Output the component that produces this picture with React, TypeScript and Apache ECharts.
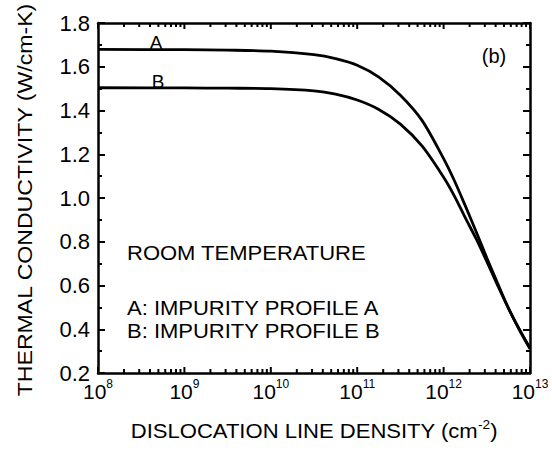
import React, { useEffect, useRef } from "react";
import * as echarts from "echarts";

// Dislocation line density (cm^-2) and thermal conductivity (W/cm-K)
const densityA = [1e8, 1e9, 3.16e9, 1e10, 3.16e10, 5.62e10, 1e11, 1.78e11, 3.16e11, 5.62e11, 1e12, 1.33e12, 1.78e12, 2.37e12, 3.16e12, 4.22e12, 5.62e12, 7.5e12, 1e13];
const conductivityA = [1.679, 1.678, 1.676, 1.671, 1.655, 1.637, 1.607, 1.553, 1.47, 1.355, 1.18, 1.08, 0.965, 0.848, 0.727, 0.61, 0.497, 0.4, 0.314];

const densityB = [1e8, 1e9, 3.16e9, 1e10, 3.16e10, 5.62e10, 1e11, 1.78e11, 3.16e11, 5.62e11, 1e12, 1.33e12, 1.78e12, 2.37e12, 3.16e12, 4.22e12, 5.62e12, 7.5e12, 1e13];
const conductivityB = [1.504, 1.503, 1.502, 1.5, 1.49, 1.475, 1.448, 1.405, 1.338, 1.238, 1.095, 1.01, 0.91, 0.815, 0.71, 0.6, 0.497, 0.4, 0.31];

const decadeTicks = [1e8, 1e9, 1e10, 1e11, 1e12, 1e13];
const exponentLabels = ["8", "9", "10", "11", "12", "13"];
const minorMultipliers = [2, 3, 4, 5, 6, 7, 8, 9];
const yTickLabels = ["0.2", "0.4", "0.6", "0.8", "1.0", "1.2", "1.4", "1.6", "1.8"];

const FONT = "'Liberation Sans', Arial, Helvetica, sans-serif";

export default function App() {
  const ref = useRef<HTMLDivElement>(null);

  useEffect(() => {
    if (!ref.current) return;
    const chart = echarts.init(ref.current, null, { renderer: "svg" });

    const xTicks: number[][] = [];
    for (let i = 0; i < decadeTicks.length; i++) {
      xTicks.push([decadeTicks[i], 1]);
      if (i < decadeTicks.length - 1) {
        for (const m of minorMultipliers) xTicks.push([decadeTicks[i] * m, 0]);
      }
    }

    const seriesA = densityA.map((d, i) => [d, conductivityA[i]]);
    const seriesB = densityB.map((d, i) => [d, conductivityB[i]]);

    const lineStyle = { color: "#000", width: 2.5 };

    const option: any = {
      animation: false,
      backgroundColor: "#fff",
      grid: { left: 98, right: 22, top: 23, bottom: 77, containLabel: false },
      xAxis: [
        {
          type: "log",
          logBase: 10,
          min: 1e8,
          max: 1e13,
          position: "bottom",
          splitLine: { show: false },
          axisLine: { show: true, onZero: false, lineStyle },
          axisTick: { show: false },
          axisLabel: {
            show: true,
            margin: 5,
            formatter: (v: number) => {
              const idx = decadeTicks.findIndex((t) => Math.abs(Math.log10(t) - Math.log10(v)) < 1e-6);
              return `{b|10}{s|${exponentLabels[idx] ?? ""}}`;
            },
            rich: {
              b: { fontSize: 21, fontFamily: FONT, color: "#000", lineHeight: 24, verticalAlign: "bottom" },
              s: { fontSize: 12, fontFamily: FONT, color: "#000", lineHeight: 12, verticalAlign: "top" },
            },
          },
        },
        {
          type: "log",
          logBase: 10,
          min: 1e8,
          max: 1e13,
          position: "top",
          splitLine: { show: false },
          axisLine: { show: true, onZero: false, lineStyle },
          axisTick: { show: false },
          axisLabel: { show: false },
        },
      ],
      yAxis: [
        {
          type: "value",
          position: "left",
          min: 0.2,
          max: 1.8,
          interval: 0.2,
          splitLine: { show: false },
          axisLine: { show: true, onZero: false, lineStyle },
          axisTick: { show: true, inside: true, length: 7, lineStyle: { color: "#000", width: 2 } },
          minorTick: { show: true, splitNumber: 2, length: 4, lineStyle: { color: "#000", width: 2 } },
          axisLabel: {
            show: true,
            margin: 8,
            fontSize: 22,
            fontFamily: FONT,
            color: "#000",
            formatter: (v: number) => {
              const idx = Math.round((v - 0.2) / 0.2);
              return yTickLabels[idx] ?? v.toFixed(1);
            },
          },
        },
        {
          type: "value",
          position: "right",
          min: 0.2,
          max: 1.8,
          interval: 0.2,
          splitLine: { show: false },
          axisLine: { show: true, onZero: false, lineStyle },
          axisTick: { show: true, inside: true, length: 7, lineStyle: { color: "#000", width: 2 } },
          minorTick: { show: true, splitNumber: 2, length: 4, lineStyle: { color: "#000", width: 2 } },
          axisLabel: { show: false },
        },
      ],
      series: [
        {
          name: "xticks",
          type: "custom",
          xAxisIndex: 0,
          yAxisIndex: 0,
          data: xTicks,
          silent: true,
          clip: false,
          renderItem: (params: any, api: any) => {
            const v = api.value(0);
            const major = api.value(1) === 1;
            const len = major ? 6 : 4;
            const bottom = api.coord([v, 0.2]);
            const top = api.coord([v, 1.8]);
            const st = { stroke: "#000", lineWidth: 2 };
            return {
              type: "group",
              children: [
                { type: "line", shape: { x1: bottom[0], y1: bottom[1], x2: bottom[0], y2: bottom[1] - len }, style: st },
                { type: "line", shape: { x1: top[0], y1: top[1], x2: top[0], y2: top[1] + len }, style: st },
              ],
            };
          },
        },
        {
          name: "A",
          type: "line",
          xAxisIndex: 0,
          yAxisIndex: 0,
          data: seriesA,
          showSymbol: false,
          smooth: 0.3,
          lineStyle: { color: "#000", width: 2.8 },
          silent: true,
        },
        {
          name: "B",
          type: "line",
          xAxisIndex: 0,
          yAxisIndex: 0,
          data: seriesB,
          showSymbol: false,
          smooth: 0.3,
          lineStyle: { color: "#000", width: 2.8 },
          silent: true,
        },
      ],
      graphic: [
        {
          type: "text",
          x: 25,
          y: 200,
          rotation: Math.PI / 2,
          scaleX: 1.1,
          style: {
            text: "THERMAL CONDUCTIVITY (W/cm-K)",
            fontSize: 21,
            fontFamily: FONT,
            fill: "#000",
            align: "center",
            verticalAlign: "middle",
          },
        },
        {
          type: "text",
          x: 314,
          y: 430,
          scaleX: 1.05,
          style: {
            text: "{t|DISLOCATION LINE DENSITY (cm}{s|-2}{t|)}",
            fontFamily: FONT,
            fill: "#000",
            align: "center",
            verticalAlign: "middle",
            rich: {
              t: { fontSize: 21, fontFamily: FONT, fill: "#000", lineHeight: 24, verticalAlign: "bottom" },
              s: { fontSize: 13, fontFamily: FONT, fill: "#000", lineHeight: 13, verticalAlign: "top" },
            },
          },
        },
        {
          type: "text",
          x: 156,
          y: 42,
          style: { text: "A", fontSize: 19, fontFamily: FONT, fill: "#000", align: "center", verticalAlign: "middle" },
        },
        {
          type: "text",
          x: 158,
          y: 81,
          style: { text: "B", fontSize: 19, fontFamily: FONT, fill: "#000", align: "center", verticalAlign: "middle" },
        },
        {
          type: "text",
          x: 494,
          y: 56,
          style: { text: "(b)", fontSize: 20, fontFamily: FONT, fill: "#000", align: "center", verticalAlign: "middle" },
        },
        {
          type: "text",
          x: 127,
          y: 253,
          scaleX: 1.1,
          style: { text: "ROOM TEMPERATURE", fontSize: 20, fontFamily: FONT, fill: "#000", align: "left", verticalAlign: "middle" },
        },
        {
          type: "text",
          x: 127,
          y: 308,
          scaleX: 1.1,
          style: { text: "A: IMPURITY PROFILE A", fontSize: 20, fontFamily: FONT, fill: "#000", align: "left", verticalAlign: "middle" },
        },
        {
          type: "text",
          x: 127,
          y: 331,
          scaleX: 1.1,
          style: { text: "B: IMPURITY PROFILE B", fontSize: 20, fontFamily: FONT, fill: "#000", align: "left", verticalAlign: "middle" },
        },
      ],
    };

    chart.setOption(option);
    return () => chart.dispose();
  }, []);

  return (
    <div
      ref={ref}
      style={{ position: "fixed", left: 0, top: 0, width: 552, height: 450, background: "#fff" }}
    />
  );
}
